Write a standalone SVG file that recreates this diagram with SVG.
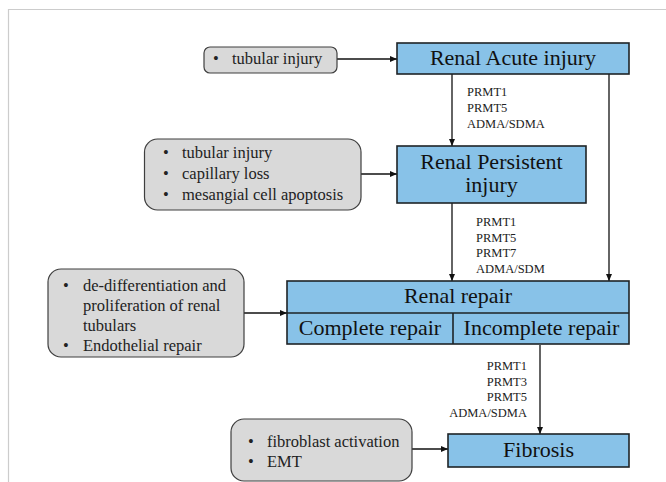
<svg xmlns="http://www.w3.org/2000/svg" width="666" height="482" viewBox="0 0 666 482">
<style>
.bg{fill:#ffffff}
.frame{fill:none;stroke:#cccccc;stroke-width:1.2}
.main{fill:#88c2e8;stroke:#1e2326;stroke-width:1.6}
.side{fill:#d9d9d9;stroke:#3f3f3f;stroke-width:1.2}
.big{font-family:"Liberation Serif","Times New Roman",serif;font-size:22px;fill:#111;text-anchor:middle}
.txt{font-family:"Liberation Serif","Times New Roman",serif;font-size:16.5px;fill:#222}
.lab{font-family:"Liberation Serif","Times New Roman",serif;font-size:12.5px;fill:#222}
.edge{stroke:#111;stroke-width:1.3;fill:none;marker-end:url(#ah)}
</style>
<defs>
<marker id="ah" markerUnits="userSpaceOnUse" markerWidth="8" markerHeight="6" refX="7" refY="3" orient="auto">
<path d="M0,0 L7,3 L0,6 z" fill="#111"/>
</marker>
</defs>
<rect class="bg" x="0" y="0" width="666" height="482"/>
<path class="frame" d="M8.5,482 L8.5,9.5 L666,9.5"/>

<g id="connectors">
<line class="edge" x1="337" y1="59" x2="397" y2="59"/>
<line class="edge" x1="452" y1="74" x2="452" y2="146"/>
<line class="edge" x1="609" y1="74" x2="609" y2="281"/>
<line class="edge" x1="361" y1="174" x2="397" y2="174"/>
<line class="edge" x1="452" y1="203" x2="452" y2="281"/>
<line class="edge" x1="244" y1="313" x2="287" y2="313"/>
<line class="edge" x1="540" y1="345" x2="540" y2="434"/>
<line class="edge" x1="412" y1="449" x2="448" y2="449"/>
</g>

<g id="labels">
<text class="lab" x="467" y="96">PRMT1</text>
<text class="lab" x="467" y="112">PRMT5</text>
<text class="lab" x="467" y="128">ADMA/SDMA</text>
<text class="lab" x="476" y="226">PRMT1</text>
<text class="lab" x="476" y="241.5">PRMT5</text>
<text class="lab" x="476" y="257">PRMT7</text>
<text class="lab" x="476" y="272.5">ADMA/SDM</text>
<text class="lab" x="527" y="370" text-anchor="end">PRMT1</text>
<text class="lab" x="527" y="385.7" text-anchor="end">PRMT3</text>
<text class="lab" x="527" y="401.3" text-anchor="end">PRMT5</text>
<text class="lab" x="527" y="417" text-anchor="end">ADMA/SDMA</text>
</g>

<g id="tubular-injury">
<rect class="side" x="204" y="47" width="133" height="26" rx="6"/>
<text class="txt" x="213" y="64">•</text>
<text class="txt" x="232" y="64">tubular injury</text>
</g>

<g id="renal-acute-injury">
<rect class="main" x="397" y="43" width="232" height="31"/>
<text class="big" x="513" y="65">Renal Acute injury</text>
</g>

<g id="persistent-causes">
<rect class="side" x="144.5" y="139" width="216.5" height="71" rx="13"/>
<text class="txt" x="163" y="158">•</text>
<text class="txt" x="182" y="158">tubular injury</text>
<text class="txt" x="163" y="179">•</text>
<text class="txt" x="182" y="179">capillary loss</text>
<text class="txt" x="163" y="200">•</text>
<text class="txt" x="182" y="200">mesangial cell apoptosis</text>
</g>

<g id="renal-persistent-injury">
<rect class="main" x="397" y="146" width="189" height="57"/>
<text class="big" x="491.5" y="169">Renal Persistent</text>
<text class="big" x="491.5" y="192">injury</text>
</g>

<g id="repair-causes">
<rect class="side" x="48" y="269" width="196" height="88" rx="13"/>
<text class="txt" x="63" y="291">•</text>
<text class="txt" x="83" y="291">de-differentiation and</text>
<text class="txt" x="83" y="311">proliferation of renal</text>
<text class="txt" x="83" y="331">tubulars</text>
<text class="txt" x="63" y="351">•</text>
<text class="txt" x="83" y="351">Endothelial repair</text>
</g>

<g id="renal-repair">
<rect class="main" x="287" y="281" width="342" height="63"/>
<line x1="287" y1="313" x2="629" y2="313" stroke="#1e2326" stroke-width="1.6"/>
<line x1="453" y1="313" x2="453" y2="344" stroke="#1e2326" stroke-width="1.6"/>
<text class="big" x="458" y="303">Renal repair</text>
<text class="big" x="370" y="335">Complete repair</text>
<text class="big" x="541.5" y="335">Incomplete repair</text>
</g>

<g id="fibrosis-causes">
<rect class="side" x="231" y="419" width="181" height="62" rx="13"/>
<text class="txt" x="248" y="447">•</text>
<text class="txt" x="267" y="447">fibroblast activation</text>
<text class="txt" x="248" y="467">•</text>
<text class="txt" x="267" y="467">EMT</text>
</g>

<g id="fibrosis">
<rect class="main" x="448" y="434" width="181" height="33"/>
<text class="big" x="538.5" y="457">Fibrosis</text>
</g>
</svg>
